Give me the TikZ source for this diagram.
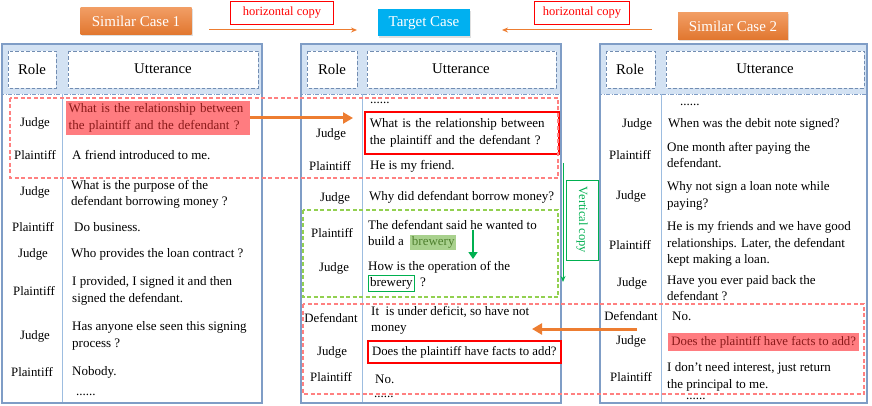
\documentclass[tikz,border=0pt]{standalone}
\usepackage{fontspec}
\setmainfont{Liberation Serif}
\usetikzlibrary{arrows.meta,shadows}
\definecolor{tblue}{HTML}{7F9DC6}
\definecolor{tdiv}{HTML}{9DBDE0}
\definecolor{hdrblue}{HTML}{D3E2F3}
\definecolor{dashred}{HTML}{FF8080}
\definecolor{hlred}{HTML}{FF7C80}
\definecolor{txred}{HTML}{8B1A1A}
\definecolor{orangeA}{HTML}{ED7D31}
\definecolor{cyanT}{HTML}{00B0F0}
\definecolor{greenL}{HTML}{92D050}
\definecolor{greenD}{HTML}{00B050}
\definecolor{hlgreen}{HTML}{A9D18E}
\definecolor{txgreen}{HTML}{4E7F2E}
\setlength{\fboxsep}{1.5pt}
\begin{document}
\begin{tikzpicture}[x=1pt,y=-1pt,
  role/.style={font=\fontsize{12.8}{14}\selectfont, anchor=center, inner sep=0pt},
  utt/.style={font=\fontsize{13}{16.3}\selectfont, anchor=west, align=left, inner sep=0pt},
  hdrtext/.style={font=\fontsize{14.8}{16}\selectfont, anchor=center},
  titlebox/.style={font=\fontsize{15}{16}\selectfont, text=white, minimum height=27pt, inner sep=0pt,
     drop shadow={opacity=0.25, shadow xshift=1pt, shadow yshift=-1.5pt}},
  copylabel/.style={draw=red, line width=0.8pt, text=red, font=\fontsize{12.5}{14}\selectfont, inner sep=0pt, minimum height=23pt},
  thinarrow/.style={draw=orangeA, line width=1pt, -{Stealth[length=6pt,width=5pt]}},
  thickarrow/.style={draw=orangeA, line width=3pt, -{Triangle[length=10pt,width=11pt]}},
  reddash/.style={draw=dashred, line width=1.1pt, dash pattern=on 4pt off 2.5pt},
  greendash/.style={draw=greenL, line width=1.1pt, dash pattern=on 4pt off 2.5pt},
  tframe/.style={draw=tblue, line width=1.3pt},
  tdivider/.style={draw=tdiv, line width=1pt},
  hdrframe/.style={draw=tblue, fill=hdrblue, line width=0.9pt, dash pattern=on 4pt off 1.5pt on 1pt off 1.5pt},
  hdrcell/.style={draw=tblue!90!black, fill=white, line width=0.9pt, dash pattern=on 3.5pt off 2pt},
  redbox/.style={draw=red, line width=1.6pt}
]
\useasboundingbox (0,0) rectangle (872,406);

% ---------- tables ----------
% table 1
\filldraw[hdrframe] (2,44) rectangle (262,94);
\filldraw[hdrcell] (8,51) rectangle (56,88);
\filldraw[hdrcell] (68,51) rectangle (258,88);
\draw[tdivider] (62,94) -- (62,403);
\draw[tframe] (2,44) rectangle (262,403);
% table 2
\filldraw[hdrframe] (301,44) rectangle (561,94);
\filldraw[hdrcell] (307,51) rectangle (357,88);
\filldraw[hdrcell] (367,51) rectangle (556,88);
\draw[tdivider] (362,94) -- (362,403);
\draw[tframe] (301,44) rectangle (561,403);
% table 3
\filldraw[hdrframe] (600,44) rectangle (867,94);
\filldraw[hdrcell] (606,51) rectangle (655,88);
\filldraw[hdrcell] (666,51) rectangle (864,88);
\draw[tdivider] (661,94) -- (661,403);
\draw[tframe] (600,44) rectangle (867,403);

\node[hdrtext] (r1) at (32,69) {Role};
\node[hdrtext] (u1) at (163,69) {Utterance};
\node[hdrtext] (r2) at (332,69) {Role};
\node[hdrtext] (u2) at (461,69) {Utterance};
\node[hdrtext] (r3) at (630,69) {Role};
\node[hdrtext] (u3) at (765,69) {Utterance};

% ---------- titles ----------
\node[titlebox, top color=orangeA!75, bottom color=orangeA!95!black, minimum width=111pt] (sc1) at (136,21) {Similar Case 1};
\node[titlebox, fill=cyanT, minimum width=92pt] (tc) at (424,23) {Target Case};
\node[titlebox, top color=orangeA!75, bottom color=orangeA!95!black, minimum width=110pt] (sc2) at (733,26) {Similar Case 2};

\node[copylabel, minimum width=103pt] (hc1) at (282,13) {horizontal copy};
\node[copylabel, minimum width=95pt] (hc2) at (582,13) {horizontal copy};
\coordinate (h1a) at (209,30);
\coordinate (h1b) at (357,30);
\coordinate (h2a) at (652,30);
\coordinate (h2b) at (502,30);
\draw[thinarrow] (h1a) -- (h1b);
\draw[thinarrow] (h2a) -- (h2b);

% ---------- table 1 rows ----------
\node[role] (t1r1) at (35,123) {Judge};
\node[role] (t1r2) at (35,155) {Plaintiff};
\node[role] (t1r3) at (35,192) {Judge};
\node[role] (t1r4) at (33,227) {Plaintiff};
\node[role] (t1r5) at (33,254) {Judge};
\node[role] (t1r6) at (34,291) {Plaintiff};
\node[role] (t1r7) at (35,336) {Judge};
\node[role] (t1r8) at (32,372) {Plaintiff};

\node[utt, fill=hlred, text=txred, inner sep=2.5pt, text width=179pt] (t1u1) at (66,118) {What is the relationship between\\the plaintiff and the defendant ?};
\node[utt] (t1u2) at (72,155) {A friend introduced to me.};
\node[utt] (t1u3) at (71,194) {What is the purpose of the\\defendant borrowing money ?};
\node[utt] (t1u4) at (74,227) {Do business.};
\node[utt] (t1u5) at (71,254) {Who provides the loan contract ?};
\node[utt] (t1u6) at (72,291) {I provided, I signed it and then\\signed the defendant.};
\node[utt] (t1u7) at (72,336) {Has anyone else seen this signing\\process ?};
\node[utt] (t1u8) at (72,372) {Nobody.};
\node[utt] (t1u9) at (76,395) {......};

% ---------- table 2 rows ----------
\node[utt] (t2u0) at (370,103) {......};
\node[role] (t2r1) at (331,134) {Judge};
\node[role] (t2r2) at (330,166) {Plaintiff};
\node[role] (t2r3) at (335,198) {Judge};
\node[role] (t2r4) at (332,233) {Plaintiff};
\node[role] (t2r5) at (334,268) {Judge};
\node[role] (t2r6) at (331,318) {Defendant};
\node[role] (t2r7) at (332,352) {Judge};
\node[role] (t2r8) at (331,377) {Plaintiff};

\node[utt, redbox, inner xsep=5pt, inner ysep=4pt, text width=184pt, minimum height=42pt] (t2u1) at (364,133) {What is the relationship between\\the plaintiff and the defendant ?};
\node[utt] (t2u2) at (370,166) {He is my friend.};
\node[utt] (t2u3) at (369,197) {Why did defendant borrow money?};
\node[utt] (t2u4) at (368,235) {The defendant said he wanted to\\build a \ \colorbox{hlgreen}{\color{txgreen}brewery}};
\node[utt] (t2u5) at (368,276) {How is the operation of the\\\fcolorbox{greenD}{white}{brewery}\, ?};
\node[utt] (t2u6) at (371,320) {It \ is under deficit, so have not\\money};
\node[utt, redbox, font=\fontsize{12.8}{14}\selectfont, inner xsep=1pt, inner ysep=2pt, minimum width=193pt, minimum height=22pt] (t2u7) at (367,352) {Does the plaintiff have facts to add?};
\node[utt] (t2u8) at (375,379) {No.};
\node[utt] (t2u9) at (374,397) {......};

% ---------- table 3 rows ----------
\node[utt] (t3u0) at (680,105) {......};
\node[role] (t3r1) at (637,124) {Judge};
\node[role] (t3r2) at (630,155) {Plaintiff};
\node[role] (t3r3) at (631,196) {Judge};
\node[role] (t3r4) at (630,245) {Plaintiff};
\node[role] (t3r5) at (632,283) {Judge};
\node[role] (t3r6) at (631,316) {Defendant};
\node[role] (t3r7) at (631,341) {Judge};
\node[role] (t3r8) at (631,377) {Plaintiff};

\node[utt] (t3u1) at (668,124) {When was the debit note signed?};
\node[utt] (t3u2) at (667,155) {One month after paying the\\defendant.};
\node[utt] (t3u3) at (667,196) {Why not sign a loan note while\\paying?};
\node[utt] (t3u4) at (667,244) {He is my friends and we have good\\relationships. Later, the defendant\\kept making a loan.};
\node[utt] (t3u5) at (667,288) {Have you ever paid back the\\defendant ?};
\node[utt] (t3u6) at (672,316) {No.};
\node[utt, fill=hlred, text=txred, font=\fontsize{12.8}{14}\selectfont, inner xsep=1pt, inner ysep=3pt, minimum width=191pt] (t3u7) at (668,342) {Does the plaintiff have facts to add?};
\node[utt] (t3u8) at (667,377) {I don’t need interest, just return\\the principal to me.};
\node[utt] (t3u9) at (686,399) {......};

% ---------- dashed groups ----------
\draw[reddash] (10,98) rectangle (558,178);
\draw[reddash] (303,304) rectangle (864,394);
\draw[greendash] (303,210) rectangle (558,297);

% ---------- thick arrows ----------
\coordinate (a1end) at (353,118);
\draw[thickarrow] (t1u1.east) -- (a1end);
\coordinate (a2start) at (637,329);
\coordinate (a2end) at (532,329);
\draw[thickarrow] (a2start) -- (a2end);

% ---------- vertical copy ----------
\coordinate (ga1) at (473,230);
\coordinate (ga2) at (473,259);
\draw[draw=greenD, line width=2.2pt, -{Triangle[length=7pt,width=9pt]}] (ga1) -- (ga2);
\coordinate (vc1) at (563,163);
\coordinate (vc2) at (563,282);
\draw[draw=greenD, line width=0.9pt, -{Stealth[length=6pt,width=5pt]}] (vc1) -- (vc2);
\node[draw=greenD, line width=0.7pt, fill=white, text=greenD, rotate=-90, minimum width=80pt, minimum height=32pt, inner sep=0pt, font=\fontsize{12.5}{14}\selectfont] (vcl) at (582,220) {Vertical copy};
\end{tikzpicture}
\end{document}
